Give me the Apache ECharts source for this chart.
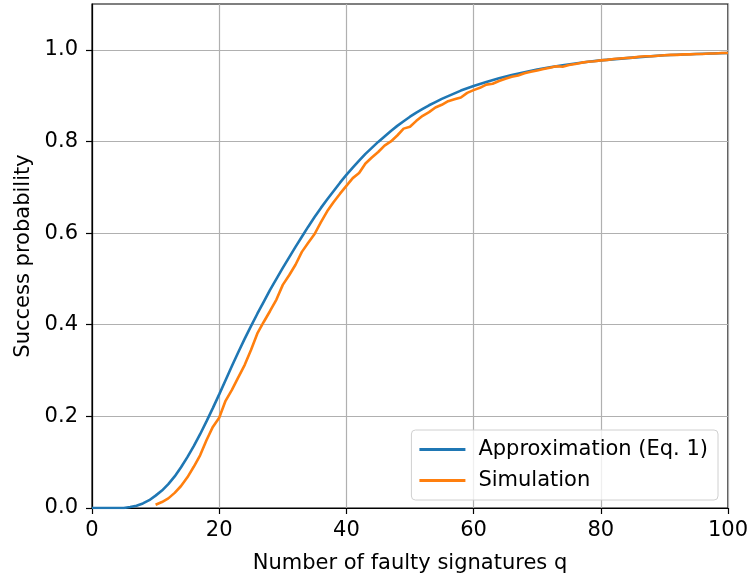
<!DOCTYPE html>
<html>
<head>
<meta charset="utf-8">
<script src="https://cdn.jsdelivr.net/npm/echarts@6/dist/echarts.min.js"></script>
<style>
	html,body{margin:0;padding:0;background:#fff;}
	#myChart{width:751px;height:579px;}
</style>
</head>
<body>
<div id="myChart"></div>
<script>
// approximation curve (Eq. 1)
var qApprox = [0,1,2,3,4,5,6,7,8,9,10,11,12,13,14,15,16,17,18,19,20,21,22,23,24,25,26,27,28,29,30,31,32,33,34,35,36,37,38,39,40,41,42,43,44,45,46,47,48,49,50,51,52,53,54,55,56,57,58,59,60,62,64,66,68,70,72,74,76,78,80,85,90,95,100];
var pApprox = [0,0,0,0,0,0,0.002,0.005,0.010,0.017,0.027,0.038,0.052,0.069,0.089,0.111,0.135,0.161,0.189,0.218,0.248,0.279,0.310,0.340,0.369,0.397,0.424,0.450,0.476,0.500,0.524,0.547,0.570,0.592,0.614,0.635,0.655,0.674,0.692,0.710,0.727,0.743,0.758,0.773,0.786,0.799,0.811,0.823,0.834,0.844,0.854,0.863,0.871,0.879,0.886,0.893,0.899,0.905,0.911,0.916,0.921,0.930,0.938,0.945,0.951,0.957,0.962,0.966,0.970,0.974,0.977,0.983,0.988,0.991,0.993];

// simulation, q = 10..100
var qSim = [10,11,12,13,14,15,16,17,18,19,20,21,22,23,24,25,26,27,28,29,30,31,32,33,34,35,36,37,38,39,40,41,42,43,44,45,46,47,48,49,50,51,52,53,54,55,56,57,58,59,60,61,62,63,64,65,66,67,68,69,70,71,72,73,74,75,76,77,78,79,80,81,82,83,84,85,86,87,88,89,90,91,92,93,94,95,96,97,98,99,100];
var pSim = [0.007,0.013,0.021,0.033,0.048,0.067,0.090,0.115,0.148,0.177,0.197,0.234,0.258,0.285,0.312,0.345,0.381,0.406,0.430,0.455,0.487,0.508,0.531,0.559,0.579,0.598,0.624,0.648,0.668,0.686,0.703,0.720,0.731,0.752,0.765,0.777,0.791,0.800,0.813,0.828,0.832,0.845,0.856,0.864,0.874,0.880,0.888,0.892,0.896,0.906,0.912,0.917,0.924,0.926,0.932,0.937,0.941,0.944,0.949,0.952,0.955,0.958,0.961,0.964,0.963,0.967,0.969,0.972,0.974,0.975,0.977,0.978,0.980,0.981,0.982,0.983,0.985,0.986,0.986,0.987,0.988,0.989,0.989,0.990,0.990,0.991,0.991,0.992,0.992,0.993,0.993];

var xTicks = [0,20,40,60,80,100];
var yTicks = [0,0.2,0.4,0.6,0.8,1.0];

function pairs(xs,ys){
	var out = [];
	for(var i=0;i<xs.length;i++){
		out.push([xs[i],ys[i]]);
	}
	return out;
}

var font = 'DejaVu Sans';
var myChart = echarts.init(document.getElementById('myChart'));
myChart.setOption({
	animation: false,
	textStyle: {fontFamily: font},
	grid: {
		left: 92, right: 23, top: 4, bottom: 67,
		show: true,
		borderColor: '#000',
		borderWidth: 1.2
	},
	legend: {
		orient: 'vertical',
		right: 33,
		bottom: 79,
		icon: 'rect',
		itemWidth: 46,
		itemHeight: 3,
		itemGap: 10,
		padding: [9, 10, 9, 8],
		borderColor: '#d0d0d0',
		borderWidth: 1,
		borderRadius: 4,
		backgroundColor: 'rgba(255,255,255,0.8)',
		textStyle: {fontSize: 21, color: '#000', fontFamily: font, padding: [0,0,0,8]},
		data: ['Approximation (Eq. 1)','Simulation']
	},
	xAxis: {
		type: 'value',
		min: 0, max: 100, interval: 20,
		name: 'Number of faulty signatures q',
		nameLocation: 'middle',
		nameGap: 45,
		nameTextStyle: {fontSize: 21, color: '#000', fontFamily: font},
		axisLine: {lineStyle: {color: '#000', width: 1.2}},
		axisTick: {show: true, length: 6, customValues: xTicks, lineStyle: {color: '#000', width: 1.2}},
		axisLabel: {fontSize: 21, color: '#000', margin: 12, fontFamily: font, customValues: xTicks},
		splitLine: {show: true, lineStyle: {color: '#b0b0b0', width: 1.2}}
	},
	yAxis: {
		type: 'value',
		min: 0, max: 1.1, interval: 0.2,
		name: 'Success probability',
		nameLocation: 'middle',
		nameGap: 58,
		nameTextStyle: {fontSize: 21, color: '#000', fontFamily: font},
		axisLine: {lineStyle: {color: '#000', width: 1.2}},
		axisTick: {show: true, length: 6, customValues: yTicks, lineStyle: {color: '#000', width: 1.2}},
		axisLabel: {
			fontSize: 21, color: '#000', margin: 14, fontFamily: font,
			customValues: yTicks,
			formatter: function(v){ return v.toFixed(1); }
		},
		splitLine: {show: true, lineStyle: {color: '#b0b0b0', width: 1.2}}
	},
	series: [
		{
			name: 'Approximation (Eq. 1)',
			type: 'line',
			showSymbol: false,
			itemStyle: {color: '#1f77b4'},
			lineStyle: {color: '#1f77b4', width: 2.6},
			data: pairs(qApprox,pApprox)
		},
		{
			name: 'Simulation',
			type: 'line',
			showSymbol: false,
			itemStyle: {color: '#ff7f0e'},
			lineStyle: {color: '#ff7f0e', width: 2.6},
			data: pairs(qSim,pSim)
		}
	]
});
</script>
</body>
</html>
